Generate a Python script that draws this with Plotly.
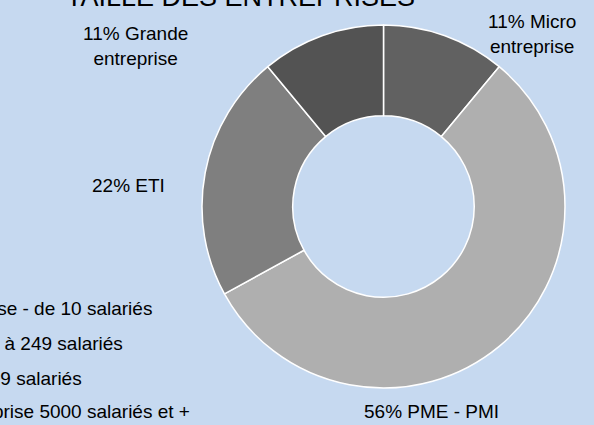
# donut chart: taille des entreprises
from plotly.graph_objects import Figure, Pie

# data
categories = ['Micro entreprise', 'PME - PMI', 'ETI', 'Grande entreprise']
shares = [11, 56, 22, 11]
slice_names = ['Micro<br>entreprise', 'PME - PMI', 'ETI', 'Grande<br>entreprise']
legend_names = [
    'Micro entreprise - de 10 salariés',
    'PME - PMI 10 à 249 salariés',
    'ETI 250 à 4999 salariés',
    'Grande entreprise 5000 salariés et +',
]
title_text = 'TAILLE DES ENTREPRISES'

W, H = 594, 425
colors = ['#616161', '#afafaf', '#7f7f7f', '#535353']
bg = '#c6d9f0'
font = 'Liberation Sans, Arial, sans-serif'

def px(x):
    return x / W

def py(y):
    return 1 - y / H

fig = Figure()
fig.add_trace(Pie(
    labels=categories,
    values=shares,
    hole=0.5,
    sort=False,
    direction='clockwise',
    rotation=0,
    textinfo='none',
    showlegend=False,
    marker=dict(colors=colors, line=dict(color='white', width=1.5)),
    domain=dict(x=[px(202), px(565)], y=[py(388), py(25)]),
))

## slice labels (placed like the original)
label_pos = [(532, 34), (431, 411), (128, 185), (135, 46)]
for name, v, (x, y) in zip(slice_names, shares, label_pos):
    fig.add_annotation(
        x=px(x), y=py(y), xref='paper', yref='paper',
        text=f'{v}% {name}', showarrow=False, align='center',
        xanchor='center', yanchor='middle',
        font=dict(family=font, size=19, color='black'),
    )

## legend text (cut by the left edge in the original)
legend_y = [308, 343, 378, 411]
for name, y in zip(legend_names, legend_y):
    fig.add_annotation(
        x=px(-121), y=py(y), xref='paper', yref='paper',
        text=name, showarrow=False, align='left',
        xanchor='left', yanchor='middle',
        font=dict(family=font, size=19, color='black'),
    )

## title, mostly above the visible area
fig.add_annotation(
    x=px(240), y=py(-3), xref='paper', yref='paper',
    text=title_text, showarrow=False,
    xanchor='center', yanchor='middle',
    font=dict(family=font, size=27, color='black'),
)

fig.update_layout(dict(
    width=W,
    height=H,
    margin=dict(l=0, r=0, t=0, b=0),
    paper_bgcolor=bg,
    plot_bgcolor=bg,
    showlegend=False,
))

# page without body margin so the figure fills the window
fig.write_html(
    'out.html',
    config=dict(displayModeBar=False),
    post_script="document.body.style.margin='0';document.body.style.overflow='hidden';",
)
